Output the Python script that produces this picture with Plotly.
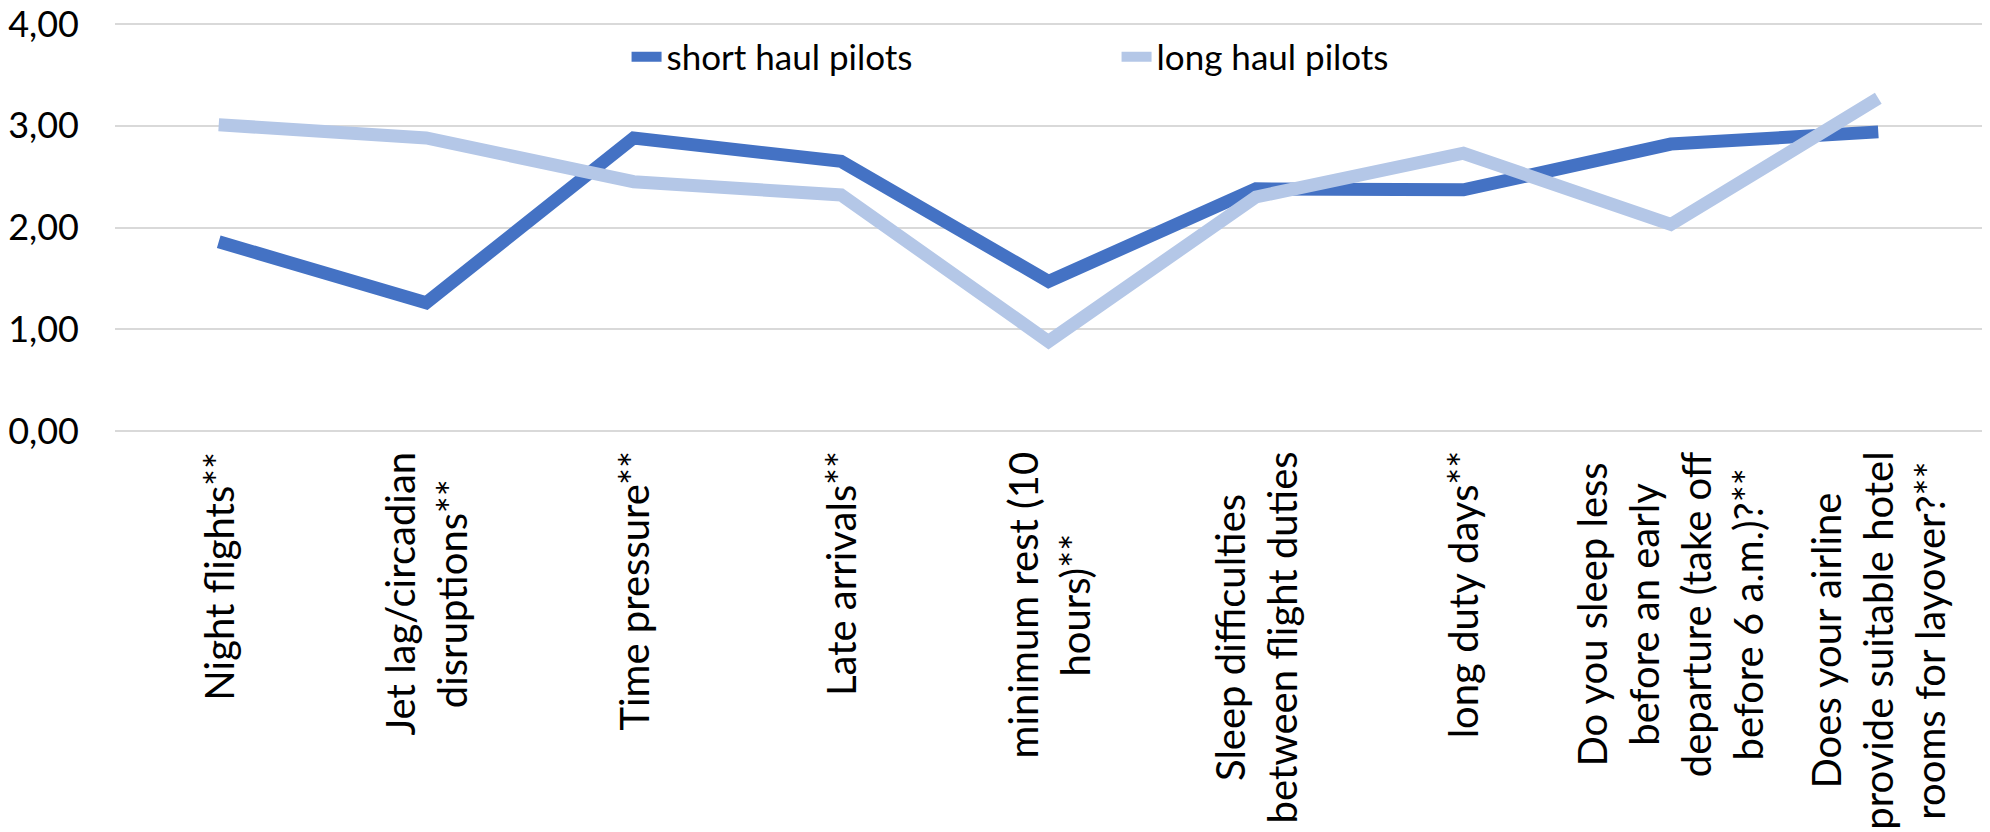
import plotly.graph_objects as go

categories = [
    "Night flights**",
    "Jet lag/circadian<br>disruptions**",
    "Time pressure**",
    "Late arrivals**",
    "minimum rest (10<br>hours)**",
    "Sleep difficulties<br>between flight duties",
    "long duty days**",
    "Do you sleep less<br>before an early<br>departure (take off<br>before 6 a.m.)?**",
    "Does your airline<br>provide suitable hotel<br>rooms for layover?**",
]
short_haul = [1.86, 1.26, 2.88, 2.65, 1.47, 2.38, 2.37, 2.82, 2.94]
long_haul = [3.01, 2.88, 2.45, 2.32, 0.88, 2.30, 2.73, 2.03, 3.27]
y_ticks = [0, 1, 2, 3, 4]

FONT = "Lato, 'Open Sans', sans-serif"
SHORT_COLOR = "#4472C4"
LONG_COLOR = "#B4C7E7"

fig = go.Figure()
fig.add_trace(go.Scatter(
    x=categories, y=short_haul, mode="lines", name="short haul pilots",
    line=dict(color=SHORT_COLOR, width=13),
))
fig.add_trace(go.Scatter(
    x=categories, y=long_haul, mode="lines", name="long haul pilots",
    line=dict(color=LONG_COLOR, width=13),
))

# Category labels: rotated, centred multi-line text below the plot area
for cat in categories:
    fig.add_annotation(
        x=cat, xref="x", y=-0.04, yref="paper",
        text=cat, textangle=-90, showarrow=False,
        xanchor="center", yanchor="top", align="center",
        font=dict(family=FONT, size=40, color="#000000"),
    )

fig.update_layout(
    width=1990, height=832,
    margin=dict(l=115, r=8, t=22, b=399, autoexpand=False),
    paper_bgcolor="#ffffff", plot_bgcolor="#ffffff",
    separators=", ",
    font=dict(family=FONT, size=35, color="#000000"),
    showlegend=True,
    legend=dict(
        orientation="h", x=0.274, y=0.915, xanchor="left", yanchor="middle",
        entrywidth=445, entrywidthmode="pixels",
        font=dict(family=FONT, size=35, color="#000000"),
        bgcolor="rgba(0,0,0,0)", traceorder="normal",
    ),
    xaxis=dict(
        type="category", range=[-0.5, len(categories) - 0.5],
        showticklabels=False, showgrid=False, zeroline=False,
        showline=False, ticks="", automargin=False,
    ),
    yaxis=dict(
        range=[-0.02, 4.02], tickvals=y_ticks, tickformat=".2f",
        showgrid=True, gridcolor="#d9d9d9", gridwidth=1.5,
        zeroline=False, showline=False, ticks="", automargin=False,
        ticklabelstandoff=35,
        tickfont=dict(family=FONT, size=36, color="#000000"),
    ),
)

fig.write_html("out.html")
